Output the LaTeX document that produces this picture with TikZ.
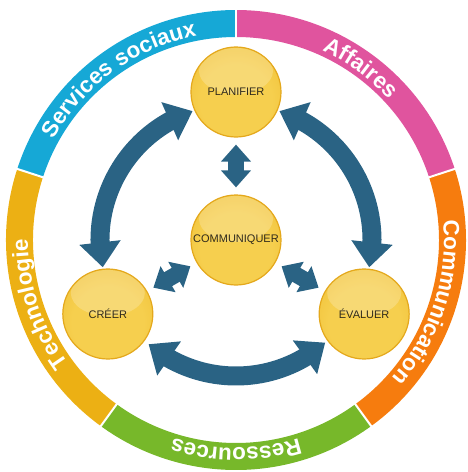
\documentclass[tikz,border=0pt]{standalone}
\usepackage{fontspec}
\usetikzlibrary{arrows.meta,bending,decorations.text}
\newfontfamily\arialfont{Liberation Sans}
\newcommand\ringfont{\arialfont\bfseries\fontsize{22.5}{22.5}\selectfont}
\definecolor{socialblue}{RGB}{22,168,214}
\definecolor{affairespink}{RGB}{224,84,158}
\definecolor{commorange}{RGB}{246,124,14}
\definecolor{ressgreen}{RGB}{119,184,42}
\definecolor{techyellow}{RGB}{236,176,20}
\definecolor{arrowblue}{RGB}{42,99,132}
\definecolor{ballin}{RGB}{246,207,78}
\definecolor{ballout}{RGB}{236,181,36}
\definecolor{balledge}{RGB}{228,168,28}
\definecolor{balltext}{RGB}{48,42,28}
\pgfdeclareradialshading{goldball}{\pgfpoint{0bp}{-8bp}}{color(0bp)=(ballin); color(20bp)=(ballin); color(46bp)=(ballout); color(50bp)=(ballout)}

\begin{document}
\begin{tikzpicture}[x=1pt, y=1pt,
  ball/.style={circle, minimum size=90pt, inner sep=0pt, draw=balledge, line width=1.2pt,
    shade, shading=goldball, text=balltext, font=\arialfont\fontsize{11}{13}\selectfont,
    path picture={\fill[white, opacity=.22] ([yshift=21pt]path picture bounding box.center) ellipse [x radius=37pt, y radius=23pt];}},
  bigarrow/.style={draw=arrowblue, line width=19pt,
    {Triangle[width=40pt,length=25pt]}-{Triangle[width=40pt,length=25pt]}},
  smallarrow/.style={draw=arrowblue, line width=16pt,
    {Triangle[width=29pt,length=17pt]}-{Triangle[width=29pt,length=17pt]},
    shorten <=7pt, shorten >=7pt},
  ringlabel/.style={decorate, decoration={text along path, text align=center,
    text color=white, text={|\ringfont|#1}}}]
\useasboundingbox (-236,-232) rectangle (231,240);

% outer ring
\fill[affairespink] (18:203) arc[start angle=18, end angle=90, radius=203] -- (90:230) arc[start angle=90, end angle=18, radius=230] -- cycle;
\fill[socialblue] (90:203) arc[start angle=90, end angle=162, radius=203] -- (162:230) arc[start angle=162, end angle=90, radius=230] -- cycle;
\fill[techyellow] (162:203) arc[start angle=162, end angle=234, radius=203] -- (234:230) arc[start angle=234, end angle=162, radius=230] -- cycle;
\fill[ressgreen] (234:203) arc[start angle=234, end angle=306, radius=203] -- (306:230) arc[start angle=306, end angle=234, radius=230] -- cycle;
\fill[commorange] (306:203) arc[start angle=306, end angle=378, radius=203] -- (378:230) arc[start angle=378, end angle=306, radius=230] -- cycle;
\foreach \a in {18,90,162,234,306}
  \draw[white, line width=2pt] (\a:200) -- (\a:233);

\path[ringlabel=Services sociaux] (162:208) arc[start angle=162, end angle=90, radius=208];
\path[ringlabel=Affaires] (90:208) arc[start angle=90, end angle=18, radius=208];
\path[ringlabel=Communication] (18:208) arc[start angle=18, end angle=-54, radius=208];
\path[ringlabel=Ressources] (-54:208) arc[start angle=-54, end angle=-126, radius=208];
\path[ringlabel=Technologie] (234:208) arc[start angle=234, end angle=162, radius=208];

% steps
\node[ball] (comm) at (0,0) {COMMUNIQUER};
\node[ball] (plan) at (90:148) {PLANIFIER};
\node[ball] (creer) at (210:148) {CRÉER};
\node[ball] (eval) at (330:148) {ÉVALUER};

% cycle arrows
\coordinate (plan-w) at (108.6:136);
\coordinate (plan-e) at (71.4:136);
\coordinate (creer-n) at (191.6:136);
\coordinate (creer-s) at (230:136);
\coordinate (eval-n) at (-11.6:136);
\coordinate (eval-s) at (311:136);
\draw[bigarrow] (creer-n) arc[start angle=191.6, end angle=108.6, radius=136];
\draw[bigarrow] (plan-e) arc[start angle=71.4, end angle=-11.6, radius=136];
\draw[bigarrow] (creer-s) arc[start angle=230, end angle=311, radius=136];

\draw[smallarrow] (plan) -- (comm);
\draw[smallarrow] (creer) -- (comm);
\draw[smallarrow] (eval) -- (comm);
\end{tikzpicture}
\end{document}
